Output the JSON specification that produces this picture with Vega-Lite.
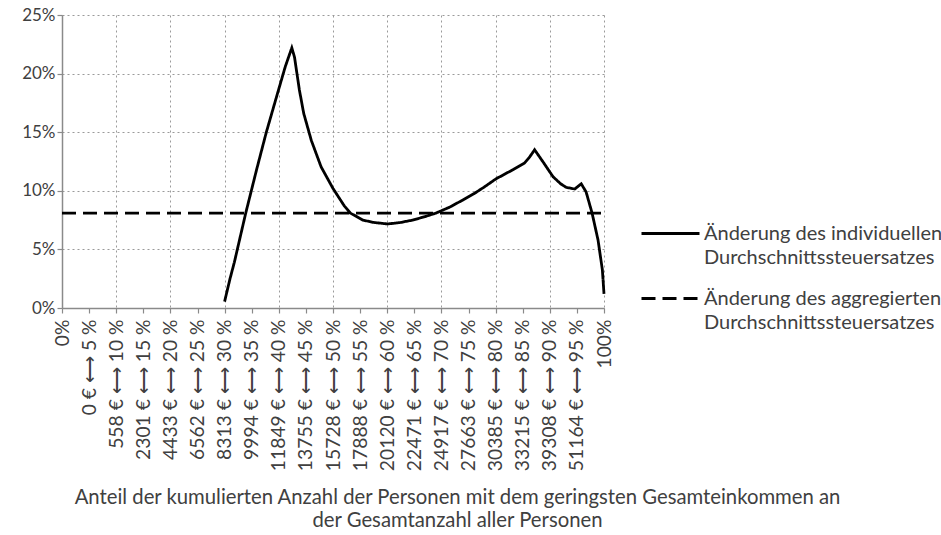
{
  "$schema": "https://vega.github.io/schema/vega-lite/v6.json",
  "width": 542,
  "height": 293,
  "autosize": {"type": "none"},
  "padding": {"left": 62, "top": 15, "right": 337, "bottom": 227},
  "background": "white",
  "config": {
    "view": {"stroke": null},
    "font": "Lato",
    "axis": {
      "labelFont": "Lato",
      "titleFont": "Lato",
      "labelColor": "#404040",
      "titleColor": "#404040",
      "domainColor": "#8a8a8a",
      "domainWidth": 1.5,
      "tickColor": "#8a8a8a",
      "tickWidth": 1.2,
      "gridColor": "#9a9a9a",
      "gridDash": [2, 3],
      "gridWidth": 1
    },
    "legend": {"labelFont": "Lato"}
  },
  "data": {
    "values": [
      {"anteil": 30.0, "wert": 0.55, "reihe": "ind"},
      {"anteil": 31.0, "wert": 2.5, "reihe": "ind"},
      {"anteil": 31.8, "wert": 3.9, "reihe": "ind"},
      {"anteil": 33.9, "wert": 8.1, "reihe": "ind"},
      {"anteil": 35.9, "wert": 11.8, "reihe": "ind"},
      {"anteil": 37.7, "wert": 15.0, "reihe": "ind"},
      {"anteil": 39.6, "wert": 18.05, "reihe": "ind"},
      {"anteil": 41.2, "wert": 20.6, "reihe": "ind"},
      {"anteil": 42.4, "wert": 22.2, "reihe": "ind"},
      {"anteil": 42.9, "wert": 21.4, "reihe": "ind"},
      {"anteil": 43.8, "wert": 18.6, "reihe": "ind"},
      {"anteil": 44.6, "wert": 16.6, "reihe": "ind"},
      {"anteil": 46.0, "wert": 14.3, "reihe": "ind"},
      {"anteil": 47.8, "wert": 12.05, "reihe": "ind"},
      {"anteil": 50.0, "wert": 10.2, "reihe": "ind"},
      {"anteil": 52.1, "wert": 8.7, "reihe": "ind"},
      {"anteil": 53.2, "wert": 8.1, "reihe": "ind"},
      {"anteil": 55.5, "wert": 7.5, "reihe": "ind"},
      {"anteil": 57.5, "wert": 7.3, "reihe": "ind"},
      {"anteil": 60.1, "wert": 7.17, "reihe": "ind"},
      {"anteil": 62.5, "wert": 7.3, "reihe": "ind"},
      {"anteil": 64.7, "wert": 7.5, "reihe": "ind"},
      {"anteil": 67.0, "wert": 7.8, "reihe": "ind"},
      {"anteil": 69.0, "wert": 8.1, "reihe": "ind"},
      {"anteil": 71.5, "wert": 8.6, "reihe": "ind"},
      {"anteil": 73.9, "wert": 9.2, "reihe": "ind"},
      {"anteil": 76.0, "wert": 9.75, "reihe": "ind"},
      {"anteil": 78.0, "wert": 10.35, "reihe": "ind"},
      {"anteil": 80.0, "wert": 11.0, "reihe": "ind"},
      {"anteil": 83.2, "wert": 11.8, "reihe": "ind"},
      {"anteil": 85.3, "wert": 12.35, "reihe": "ind"},
      {"anteil": 86.3, "wert": 12.9, "reihe": "ind"},
      {"anteil": 87.2, "wert": 13.5, "reihe": "ind"},
      {"anteil": 88.7, "wert": 12.5, "reihe": "ind"},
      {"anteil": 90.6, "wert": 11.2, "reihe": "ind"},
      {"anteil": 92.0, "wert": 10.6, "reihe": "ind"},
      {"anteil": 93.0, "wert": 10.3, "reihe": "ind"},
      {"anteil": 94.6, "wert": 10.15, "reihe": "ind"},
      {"anteil": 95.8, "wert": 10.6, "reihe": "ind"},
      {"anteil": 96.7, "wert": 9.9, "reihe": "ind"},
      {"anteil": 97.8, "wert": 8.1, "reihe": "ind"},
      {"anteil": 98.9, "wert": 5.8, "reihe": "ind"},
      {"anteil": 99.7, "wert": 3.25, "reihe": "ind"},
      {"anteil": 100.0, "wert": 1.2, "reihe": "ind"},
      {"anteil": 0, "wert": 8.1, "reihe": "agg"},
      {"anteil": 100, "wert": 8.1, "reihe": "agg"}
    ]
  },
  "mark": {"type": "line", "color": "black", "strokeWidth": 2.8, "clip": false},
  "encoding": {
    "x": {
      "field": "anteil",
      "type": "quantitative",
      "scale": {"domain": [0, 100], "nice": false, "zero": false},
      "axis": {
        "values": [0, 5, 10, 15, 20, 25, 30, 35, 40, 45, 50, 55, 60, 65, 70, 75, 80, 85, 90, 95, 100],
        "labelExpr": "['0%', '0 € ⟷ 5 %', '558 € ⟷ 10 %', '2301 € ⟷ 15 %', '4433 € ⟷ 20 %', '6562 € ⟷ 25 %', '8313 € ⟷ 30 %', '9994 € ⟷ 35 %', '11849 € ⟷ 40 %', '13755 € ⟷ 45 %', '15728 € ⟷ 50 %', '17888 € ⟷ 55 %', '20120 € ⟷ 60 %', '22471 € ⟷ 65 %', '24917 € ⟷ 70 %', '27663 € ⟷ 75 %', '30385 € ⟷ 80 %', '33215 € ⟷ 85 %', '39308 € ⟷ 90 %', '51164 € ⟷ 95 %', '100%'][round(datum.value / 5)]",
        "labelAngle": -90,
        "labelAlign": "right",
        "labelBaseline": "middle",
        "labelFontSize": 19.3,
        "labelPadding": 6,
        "labelOverlap": false,
        "labelBound": false,
        "labelFlush": false,
        "tickSize": 5,
        "grid": true,
        "gridOpacity": {"condition": {"test": "datum.value % 10 === 0", "value": 1}, "value": 0},
        "title": ["Anteil der  kumulierten Anzahl der Personen mit dem geringsten Gesamteinkommen an", "der Gesamtanzahl aller Personen"],
        "titleFontSize": 20.3,
        "titleFontWeight": "normal",
        "titleLineHeight": 23,
        "titleAnchor": null,
        "titleAlign": "center",
        "titleBaseline": "middle",
        "titleX": 395,
        "titleY": 189
      }
    },
    "y": {
      "field": "wert",
      "type": "quantitative",
      "scale": {"domain": [0, 25], "nice": false},
      "axis": {
        "values": [0, 5, 10, 15, 20, 25],
        "labelExpr": "datum.value + '%'",
        "labelFontSize": 17,
        "labelPadding": 2,
        "tickSize": 5,
        "grid": true,
        "title": null
      }
    },
    "strokeDash": {
      "field": "reihe",
      "type": "nominal",
      "scale": {"domain": ["ind", "agg"], "range": [[1, 0], [14, 7]]},
      "legend": {
        "orient": "none",
        "legendX": 578,
        "legendY": 188,
        "title": null,
        "padding": 0,
        "symbolType": "stroke",
        "symbolSize": 3364,
        "symbolStrokeWidth": 2.8,
        "symbolStrokeColor": "black",
        "rowPadding": -2,
        "labelOffset": 3,
        "labelFontSize": 20,
        "labelColor": "#404040",
        "labelLimit": 400,
        "labelBaseline": "middle",
        "labelExpr": "datum.value === 'ind' ? ['Änderung des individuellen', 'Durchschnittssteuersatzes'] : ['Änderung des aggregierten', 'Durchschnittssteuersatzes']",
        "encode": {
          "labels": {"update": {"lineHeight": {"value": 24}}}
        }
      }
    }
  }
}
